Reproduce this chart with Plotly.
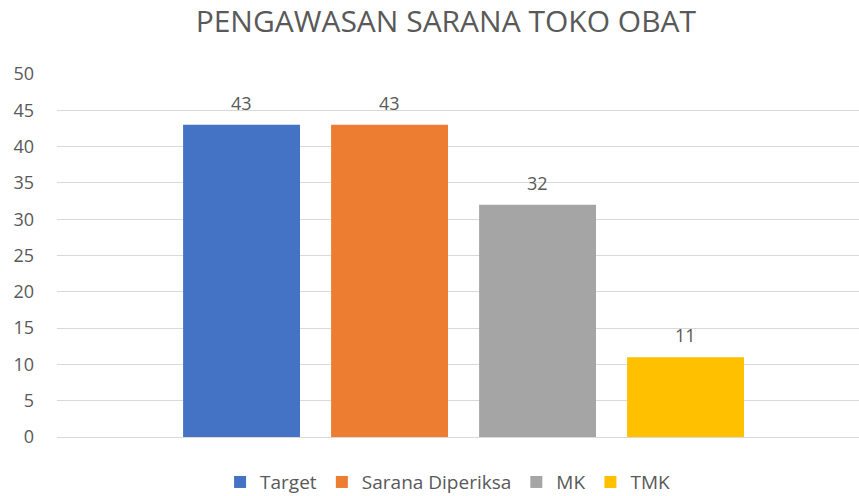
import plotly.graph_objects as go

series_names = ["Target", "Sarana Diperiksa", "MK", "TMK"]
series_values = [43, 43, 32, 11]
series_colors = ["#4472C4", "#ED7D31", "#A5A5A5", "#FFC000"]
y_ticks = [0, 5, 10, 15, 20, 25, 30, 35, 40, 45, 50]
title_text = "PENGAWASAN SARANA TOKO OBAT"

FONT = "Open Sans"
GREY = "#595959"

fig = go.Figure()
for i, (name, val, col) in enumerate(zip(series_names, series_values, series_colors)):
    fig.add_trace(go.Bar(
        x=[i], y=[val], name=name, marker=dict(color=col, line=dict(width=0)),
        width=0.79, hoverinfo="skip",
    ))
    fig.add_annotation(
        x=i, y=val, text=str(val), showarrow=False, yshift=22, yanchor="middle",
        font=dict(family=FONT, size=18, color=GREY),
    )

fig.update_layout(
    width=859, height=496,
    margin=dict(l=57, r=0, t=74, b=59),
    paper_bgcolor="white", plot_bgcolor="white",
    barmode="overlay",
    title=dict(text=title_text, x=0.519, xanchor="center", y=0.956, yanchor="middle",
               font=dict(family=FONT, size=30, color=GREY)),
    xaxis=dict(range=[-1.247, 4.172], showticklabels=False, showgrid=False,
               zeroline=False, showline=False, ticks="", fixedrange=True, automargin=False),
    yaxis=dict(range=[0, 50], tickvals=y_ticks, showgrid=True, gridcolor="#D9D9D9",
               gridwidth=1, zeroline=True, zerolinecolor="#D9D9D9", zerolinewidth=1,
               showline=False, ticks="", ticklabelstandoff=22, automargin=False,
               tickfont=dict(family=FONT, size=18, color=GREY)),
    legend=dict(orientation="h", x=0.487, xanchor="center", yref="container",
                y=0.028, yanchor="middle",
                font=dict(family=FONT, size=19, color=GREY), itemwidth=30,
                traceorder="normal", tracegroupgap=0),
    showlegend=True,
)

fig.write_html("out.html", config={"displayModeBar": False},
               post_script="document.body.style.margin='0';")
